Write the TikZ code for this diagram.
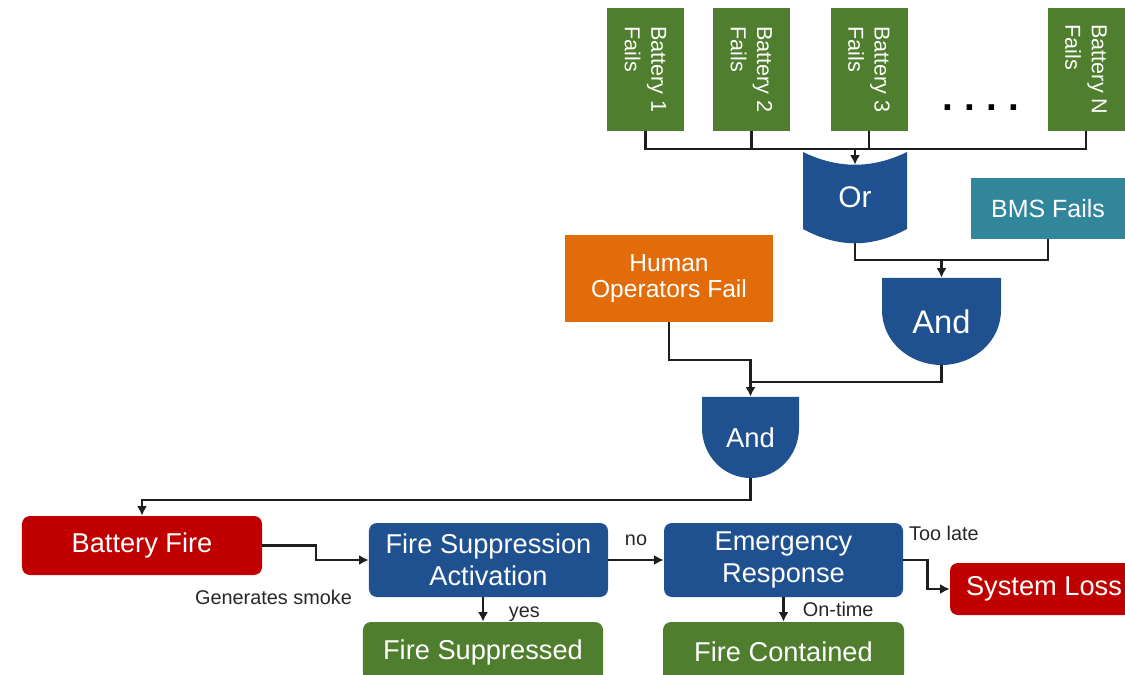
\documentclass[tikz,border=0pt]{standalone}
\usepackage{fontspec}
\setmainfont{Liberation Sans}
\usepackage{xcolor}
\usepackage{tikz}
\usetikzlibrary{arrows.meta,positioning,calc}
\definecolor{battgreen}{RGB}{79,126,46}
\definecolor{gateblue}{RGB}{31,80,144}
\definecolor{bmsteal}{RGB}{49,134,155}
\definecolor{humanorange}{RGB}{227,108,10}
\definecolor{firered}{RGB}{192,0,0}
\definecolor{wiregray}{RGB}{30,30,30}

\begin{document}
\begin{tikzpicture}[
x=0.2mm,
y=0.2mm,
every node/.style={text=white},
battery/.style={rectangle,fill=battgreen,rotate=-90,align=left,inner sep=0pt,minimum width=24.6mm,minimum height=15.4mm,font=\fontsize{12.3}{15}\selectfont},
event/.style={rectangle,align=center,inner sep=0pt},
flow/.style={rectangle,rounded corners=1.6mm,align=center,inner sep=0pt,minimum width=47.8mm,font=\fontsize{15.5}{18}\selectfont},
orgate/.style={rectangle,inner sep=0pt,minimum width=20.8mm,minimum height=18.2mm,font=\fontsize{17}{19}\selectfont,
  path picture={\fill[gateblue] (path picture bounding box.north west) .. controls +(35,-17) and +(-35,-17) .. (path picture bounding box.north east) -- ([yshift=2.8mm]path picture bounding box.south east) .. controls +(-35,-19) and +(35,-19) .. ([yshift=2.8mm]path picture bounding box.south west) -- cycle;}},
andgate/.style={rectangle,inner sep=0pt,
  path picture={\fill[gateblue] (path picture bounding box.north west) -- (path picture bounding box.north east) -- ([yshift=#1]path picture bounding box.south east) to[out=-90,in=0] (path picture bounding box.south) to[out=180,in=-90] ([yshift=#1]path picture bounding box.south west) -- cycle;}},
dotrow/.style={text=black,inner sep=0pt,font=\fontsize{22}{22}\bfseries\selectfont},
wire/.style={draw=wiregray,line width=1.3pt},
arr/.style={wire,-{Latex[length=1.9mm,width=2mm]}},
lbl/.style={text=black!85,inner sep=1pt,font=\fontsize{11.3}{13}\selectfont}
]
\useasboundingbox (0,0) rectangle (1125,-675);

\node[battery] (bat1) at (645.5,-69.5) {Battery 1\\Fails};
\node[battery] (bat2) at (751.5,-69.5) {Battery 2\\Fails};
\node[battery] (bat3) at (869,-69.5) {Battery 3\\Fails};
\node[battery] (batn) at (1086,-69.5) {Battery N\\Fails};
\node[dotrow] (dots) at (981,-108) {.\hspace{6.4pt}.\hspace{6.4pt}.\hspace{6.4pt}.};

\node[orgate] (orgate) at (855,-197.5) {Or};
\node[event,fill=bmsteal,minimum width=30.8mm,minimum height=12.2mm,font=\fontsize{14.2}{17}\selectfont] (bms) at (1048,-208.5) {BMS Fails};
\node[event,fill=humanorange,minimum width=41.6mm,minimum height=17.4mm,font=\fontsize{14}{14.5}\selectfont] (human) at (669,-278.5) {Human\\Operators Fail};
\node[andgate=11mm,minimum width=23.8mm,minimum height=17.4mm,font=\fontsize{18.6}{20}\selectfont] (and1) at (941.5,-321.5) {And};
\node[andgate=10mm,minimum width=19.4mm,minimum height=16.2mm,font=\fontsize{15.6}{18}\selectfont] (and2) at (750.5,-437.5) {And};

\node[flow,fill=firered,minimum width=48mm,minimum height=11.8mm] (batfire) at (142,-545.5) {Battery Fire};
\node[flow,fill=gateblue,minimum height=14.8mm] (suppress) at (488.5,-560) {Fire Suppression\\Activation};
\node[flow,fill=gateblue,minimum height=14.8mm] (response) at (783.5,-560) {Emergency\\Response};
\node[flow,fill=battgreen,minimum width=48mm,minimum height=12mm] (suppressed) at (483,-652) {Fire Suppressed};
\node[flow,fill=battgreen,minimum width=48.2mm,minimum height=12mm] (contained) at (783.5,-652) {Fire Contained};
\node[flow,fill=firered,minimum width=37.6mm,minimum height=10.4mm] (loss) at (1044,-589) {System Loss};

\node[lbl,anchor=east] (smoke) at (354,-597) {Generates smoke};
\node[lbl,anchor=west] (late) at (907,-533) {Too late};

% battery failures into the Or gate
\coordinate (bus) at (855,-149);
\draw[wire] (bat1.east) |- (bus) -| (batn.east);
\draw[wire] (bat2.east) -- (bat2.east |- bus);
\draw[wire] (bat3.east) -- (bat3.east |- bus);
\draw[arr] (bus) -- ([yshift=-2.6mm]orgate.north);

\coordinate (orjoin) at (941.5,-260);
\draw[wire] (orgate.south) |- (orjoin) -| (bms.south);
\draw[arr] (orjoin) -- (and1.north);

\coordinate (gatejoin) at (750.5,-382);
\draw[arr] (human.south) -- ++(0,-38) -| (and2.north);
\draw[wire] (and1.south) |- (gatejoin);

% fire sequence
\draw[arr] (and2.south) -- ++(0,-22) -| (batfire.north);
\draw[arr] (batfire.east) -- ++(54,0) |- (suppress.west);
\draw[arr] (suppress.east) -- node[lbl,above=2.2mm] {no} (response.west);
\draw[arr] (suppressed.north |- suppress.south) -- node[lbl,right=4.6mm,yshift=-1mm] {yes} (suppressed.north);
\draw[arr] (response.south) -- node[lbl,right=3.3mm] {On-time} (contained.north);
\draw[arr] (response.east) -- ++(24,0) |- (loss.west);
\end{tikzpicture}
\end{document}
